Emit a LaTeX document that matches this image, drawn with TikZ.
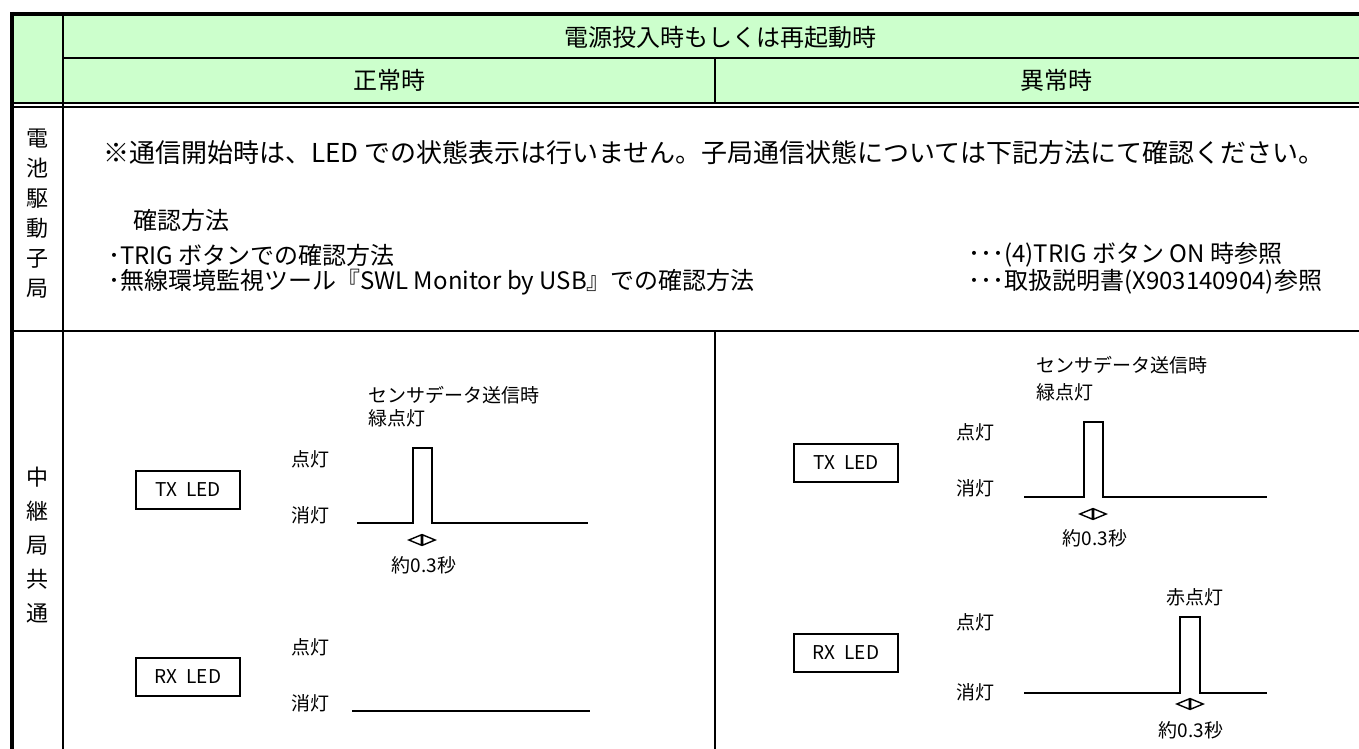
\documentclass[tikz,border=0pt]{standalone}
\usepackage{fontspec}
\setmainfont{Noto Sans CJK JP}
\usetikzlibrary{arrows.meta}
\definecolor{hdrgreen}{HTML}{CCFFCC}
\begin{document}
\begin{tikzpicture}[x=1pt,y=-1pt,
		head/.style={font=\fontsize{24}{24}\selectfont,inner sep=0pt},
		body/.style={font=\fontsize{24}{24}\selectfont,inner sep=0pt,anchor=west},
		side/.style={font=\fontsize{22}{30}\selectfont,align=center,inner sep=0pt},
		lbl/.style={font=\fontsize{19}{19}\selectfont,inner sep=0pt},
		ledbox/.style={draw,line width=1.2pt,minimum width=104pt,minimum height=38pt,inner sep=0pt,font=\fontsize{19}{19}\selectfont},
		wave/.style={line width=2pt},
		dblarr/.style={line width=1.4pt,>={Triangle[open,length=15pt,width=12pt]},<->}
		]
	\useasboundingbox (0,0) rectangle (1359,749);
	\fill[hdrgreen] (12,14) rectangle (1359,104);
	\draw[line width=4pt] (10,14) -- (1359,14);
	\draw[line width=4pt] (12,12) -- (12,749);
	\draw[line width=2pt] (62.5,14) -- (62.5,749);
	\draw[line width=1.5pt] (62.5,58) -- (1359,58);
	\draw[line width=1.5pt] (715,58) -- (715,104);
	\draw[line width=1.2pt] (12,103) -- (1359,103);
	\draw[line width=2pt] (12,107) -- (1359,107);
	\draw[line width=2.5pt] (12,331) -- (1359,331);
	\draw[line width=2pt] (715,331) -- (715,749);

	\node [head] (hdrall) at (720,37) {電源投入時もしくは再起動時};
	\node [head] (hdrok) at (389,80) {正常時};
	\node [head] (hdrng) at (1056,80) {異常時};

	\node [side] (sidebat) at (38,214) {電\\池\\駆\\動\\子\\局};
	\node [side,font=\fontsize{22}{34}\selectfont] (siderel) at (38,545) {中\\継\\局\\共\\通};

	\node [body,font=\fontsize{26}{26}\selectfont] (note) at (103,153) {※通信開始時は、LED での状態表示は行いません。子局通信状態については下記方法にて確認ください。};
	\node [body] (howto) at (133,220) {確認方法};
	\node [body] (howtrig) at (108,255) {･TRIG ボタンでの確認方法};
	\node [body] (howswl) at (108,282) {･無線環境監視ツール『SWL Monitor by USB』での確認方法};
	\node [body] (reftrig) at (968,255) {･･･(4)TRIG ボタン ON 時参照};
	\node [body] (refswl) at (968,282) {･･･取扱説明書(X903140904)参照};

	\node [ledbox] (txok) at (188,490) {TX\hspace{9pt}LED};
	\node [ledbox] (rxok) at (188,677) {RX\hspace{9pt}LED};
	\node [lbl] (txokon) at (310,459) {点灯};
	\node [lbl] (txokoff) at (310,515) {消灯};
	\node [lbl] (rxokon) at (310,647) {点灯};
	\node [lbl] (rxokoff) at (310,703) {消灯};
	\node [lbl,anchor=west] (sendok) at (368,395) {センサデータ送信時};
	\node [lbl,anchor=west] (greenok) at (368,418) {緑点灯};
	\node [lbl] (timeok) at (424,565) {約0.3秒};
	\draw[wave] (357,523) -- (413,523) -- (413,448) -- (432,448) -- (432,523) -- (588,523);
	\draw[wave] (352,711) -- (590,711);
	\coordinate (okA) at (407,540);
	\coordinate (okB) at (437,540);
	\draw[dblarr] (okA) -- (okB);

	\node [ledbox] (txng) at (846,463) {TX\hspace{9pt}LED};
	\node [ledbox] (rxng) at (846,653) {RX\hspace{9pt}LED};
	\node [lbl] (txngon) at (975,432) {点灯};
	\node [lbl] (txngoff) at (975,488) {消灯};
	\node [lbl] (rxngon) at (975,622) {点灯};
	\node [lbl] (rxngoff) at (975,692) {消灯};
	\node [lbl,anchor=west] (sendng) at (1036,365) {センサデータ送信時};
	\node [lbl,anchor=west] (greenng) at (1036,392) {緑点灯};
	\node [lbl] (redng) at (1195,597) {赤点灯};
	\node [lbl] (timetx) at (1095,538) {約0.3秒};
	\node [lbl] (timerx) at (1191,730) {約0.3秒};
	\draw[wave] (1024,497) -- (1084,497) -- (1084,422) -- (1103,422) -- (1103,497) -- (1267,497);
	\draw[wave] (1024,693) -- (1180,693) -- (1180,617) -- (1200,617) -- (1200,693) -- (1267,693);
	\coordinate (txA) at (1078,514);
	\coordinate (txB) at (1108,514);
	\draw[dblarr] (txA) -- (txB);
	\coordinate (rxA) at (1175,704);
	\coordinate (rxB) at (1205,704);
	\draw[dblarr] (rxA) -- (rxB);
\end{tikzpicture}
\end{document}
